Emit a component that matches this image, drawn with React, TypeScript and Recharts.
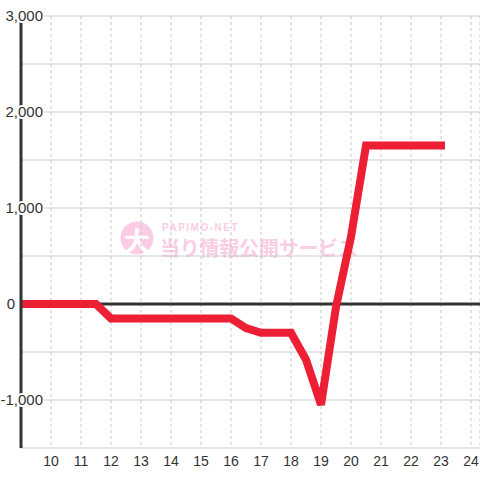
import {
  LineChart,
  Line,
  XAxis,
  YAxis,
  CartesianGrid,
  ReferenceLine,
} from "recharts";

// hour of day -> running balance
const hours = [9, 11.5, 12, 16, 16.5, 17, 18, 18.5, 19, 19.5, 20, 20.5, 23];
const balance = [0, 0, -150, -150, -250, -300, -300, -580, -1050, -30, 700, 1650, 1650];

const xTicks = [10, 11, 12, 13, 14, 15, 16, 17, 18, 19, 20, 21, 22, 23, 24];
const yTicks = [-1500, -1000, -500, 0, 500, 1000, 1500, 2000, 2500, 3000];
const yLabels = [-1000, 0, 1000, 2000, 3000];

const data = hours.map((h, i) => ({ hour: h, value: balance[i] }));

const FONT = '"Liberation Sans", Arial, sans-serif';

function YTick(props: any) {
  const { y, payload } = props;
  if (!yLabels.includes(payload.value)) return <g />;
  const x = payload.value === 0 ? 15 : 43;
  return (
    <text
      x={x}
      y={y}
      dy="0.36em"
      textAnchor="end"
      fill="#333"
      stroke="#fff"
      strokeWidth={4}
      paintOrder="stroke"
      fontSize={15}
      fontFamily={FONT}
    >
      {payload.value.toLocaleString("en-US")}
    </text>
  );
}

function Watermark() {
  const pink = "#fbcde4";
  return (
    <svg
      width={480}
      height={480}
      style={{ position: "absolute", left: 0, top: 0 }}
    >
      <circle cx={137} cy={238} r={16.5} fill={pink} />
      <text
        x={137}
        y={239}
        textAnchor="middle"
        dominantBaseline="central"
        fill="#fff"
        fontSize={26}
        fontWeight="bold"
        fontFamily='"Noto Sans CJK JP", sans-serif'
      >
        大
      </text>
      <text
        x={162}
        y={231}
        fill={pink}
        fontSize={10}
        fontWeight="bold"
        letterSpacing={1.5}
        fontFamily={FONT}
      >
        PAPIMO-NET
      </text>
      <text
        x={160}
        y={256}
        fill={pink}
        fontSize={20}
        fontWeight="bold"
        textLength={198}
        fontFamily='"Noto Sans CJK JP", sans-serif'
      >
        当り情報公開サービス
      </text>
    </svg>
  );
}

export default function App() {
  return (
    <div
      style={{
        position: "absolute",
        left: 0,
        top: 0,
        width: 480,
        height: 480,
        background: "#fff",
        fontFamily: FONT,
      }}
    >
      <Watermark />
      <div style={{ position: "absolute", left: 0, top: 0 }}>
        <LineChart
          width={480}
          height={480}
          data={data}
          margin={{ top: 16, right: 0, bottom: 0, left: 0 }}
        >
          <CartesianGrid vertical={false} stroke="#cccccc" />
          <CartesianGrid
            horizontal={false}
            stroke="#c8c8c8"
            strokeDasharray="3 3"
          />
          <XAxis
            type="number"
            dataKey="hour"
            domain={[9, 24.3]}
            ticks={xTicks}
            allowDataOverflow
            axisLine={false}
            tickLine={false}
            height={32}
            tick={{ fill: "#333", fontSize: 14, fontFamily: FONT }}
          />
          <YAxis
            type="number"
            domain={[-1500, 3000]}
            ticks={yTicks}
            width={21}
            tickLine={false}
            axisLine={{ stroke: "#333", strokeWidth: 3 }}
            tick={<YTick />}
          />
          <ReferenceLine y={0} stroke="#333" strokeWidth={3} />
          <Line
            type="linear"
            dataKey="value"
            stroke="#ec1f35"
            strokeWidth={8}
            strokeLinecap="square"
            dot={false}
            activeDot={false}
            isAnimationActive={false}
          />
        </LineChart>
      </div>
    </div>
  );
}
